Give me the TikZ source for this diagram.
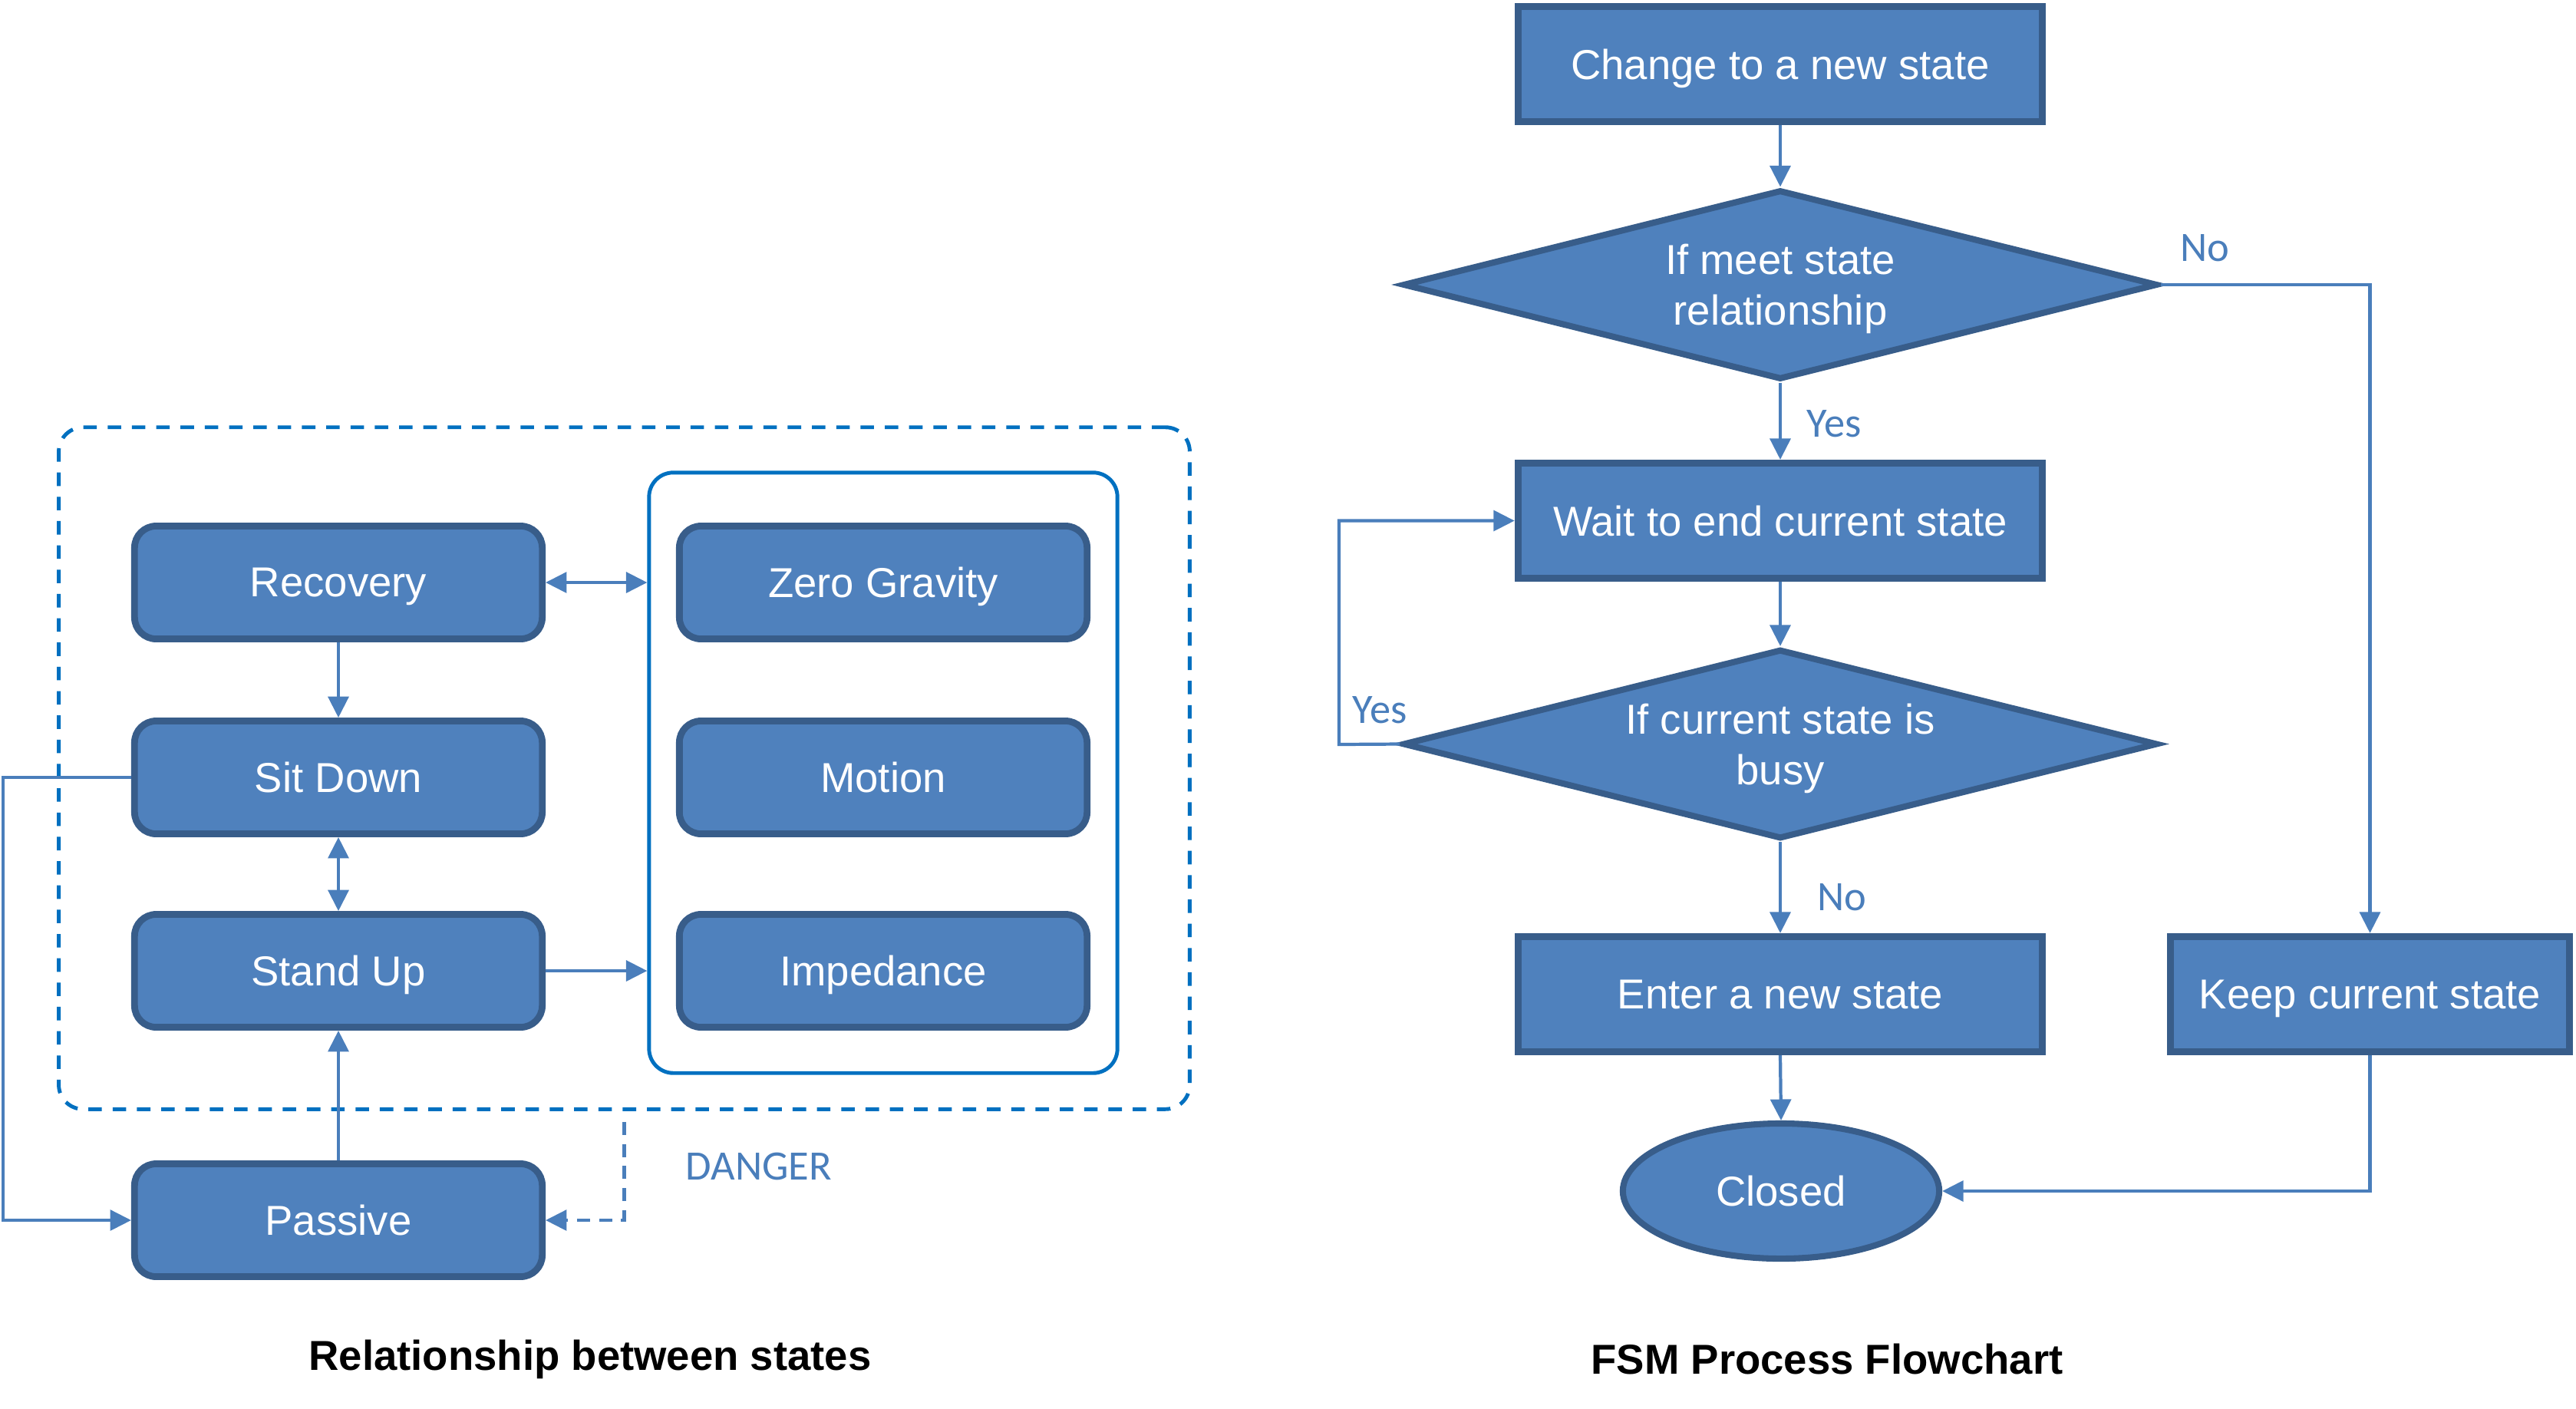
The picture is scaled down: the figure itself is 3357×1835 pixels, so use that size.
\documentclass[tikz,border=0pt]{standalone}
\usepackage{fontspec}
\setmainfont{Liberation Sans}
\newfontfamily\lblfont{Carlito}
\usetikzlibrary{arrows.meta,shapes.geometric}
\definecolor{fillblue}{HTML}{4F81BD}
\definecolor{borderblue}{HTML}{385D8A}
\definecolor{linecol}{HTML}{4A7EBB}
\definecolor{grpblue}{HTML}{0070C0}
\begin{document}
\begin{tikzpicture}[x=0.01cm,y=-0.01cm,
  txt/.style={font=\fontsize{15.5}{18.8}\selectfont},
  state/.style={txt, draw=borderblue, line width=2.5pt, fill=fillblue, rounded corners=8pt, text=white, minimum width=5.31cm, minimum height=1.47cm, inner sep=0pt, text depth=0pt},
  frect/.style={txt, draw=borderblue, line width=2.6pt, fill=fillblue, text=white, minimum width=6.83cm, minimum height=1.5cm, inner sep=0pt, text depth=0pt},
  fdia/.style={txt, diamond, aspect=3.9, draw=borderblue, line width=2.3pt, fill=fillblue, text=white, minimum width=9.83cm, minimum height=2.47cm, inner sep=0pt, align=center, text depth=0pt},
  lbl/.style={font=\lblfont\fontsize{15.5}{18.8}\selectfont, text=linecol, inner sep=0pt},
  captxt/.style={font=\bfseries\fontsize{15.5}{18.8}\selectfont, text=black, inner sep=0pt},
  conn/.style={draw=linecol, line width=1.2pt, -{Triangle[length=7.8pt,width=7.6pt]}},
  dconn/.style={draw=linecol, line width=1.2pt, {Triangle[length=7.8pt,width=7.6pt]}-{Triangle[length=7.8pt,width=7.6pt]}}
]
\useasboundingbox (0,0) rectangle (3357,1835);

% ---------- left: relationship between states ----------
\node[draw=grpblue, line width=1.4pt, dash pattern=on 5pt off 4pt, rounded corners=9pt, minimum width=14.73cm, minimum height=8.88cm] (danger) at (813.5,1001) {};
\node[draw=grpblue, line width=1.4pt, rounded corners=9pt, minimum width=6.1cm, minimum height=7.82cm] (grp) at (1151,1007) {};

\node[state] (rec) at (441,759) {Recovery};
\node[state] (sd) at (441,1013) {Sit Down};
\node[state] (su) at (441,1265) {Stand Up};
\node[state] (pas) at (441,1590) {Passive};
\node[state] (zg) at (1151,759) {Zero Gravity};
\node[state] (mot) at (1151,1013) {Motion};
\node[state] (imp) at (1151,1265) {Impedance};

\node[lbl] (dangerlbl) at (989,1520) {DANGER};
\node[captxt] (cap1) at (769,1771) {Relationship between states};

\coordinate (sdl) at (4,1013);

\draw[dconn] (rec.east) -- (grp.west |- rec.east);
\draw[conn] (rec.south) -- (sd.north);
\draw[dconn] (sd.south) -- (su.north);
\draw[conn] (su.east) -- (grp.west |- su.east);
\draw[conn] (pas.north) -- (su.south);
\draw[conn] (sd.west) -- (sdl) |- (pas.west);
\draw[conn, dash pattern=on 4.8pt off 3.4pt] ([yshift=-4pt]danger.south) |- (pas.east);

% ---------- right: FSM process flowchart ----------
\node[frect] (chg) at (2320,83.5) {Change to a new state};
\node[fdia] (dia1) at (2320,371) {If meet state\\relationship};
\node[frect] (wait) at (2320,678.5) {Wait to end current state};
\node[fdia] (dia2) at (2320,969.5) {If current state is\\busy};
\node[frect] (enter) at (2320,1295.5) {Enter a new state};
\node[frect, minimum width=5.2cm] (keep) at (3088.5,1295.5) {Keep current state};
\node[txt, ellipse, draw=borderblue, line width=2.3pt, fill=fillblue, text=white, minimum width=4.12cm, minimum height=1.76cm, inner sep=0pt] (closed) at (2321,1552) {Closed};

\node[lbl, anchor=west] (yes1) at (2354,552) {Yes};
\node[lbl, anchor=west] (no1) at (2841,323) {No};
\node[lbl, anchor=west] (yes2) at (1762,925) {Yes};
\node[lbl, anchor=west] (no2) at (2368,1169) {No};
\node[captxt] (cap2) at (2381,1771) {FSM Process Flowchart};

\coordinate (loopl) at (1745,970);

\draw[conn] (chg.south) -- (dia1.north);
\draw[conn] (dia1.south) -- (wait.north);
\draw[conn] (wait.south) -- (dia2.north);
\draw[conn] (dia2.south) -- (enter.north);
\draw[conn] (enter.south) -- (closed.north);
\draw[conn] (dia2.west) -- (loopl) |- (wait.west);
\draw[conn] (dia1.east) -| (keep.north);
\draw[conn] (keep.south) |- (closed.east);
\end{tikzpicture}
\end{document}
